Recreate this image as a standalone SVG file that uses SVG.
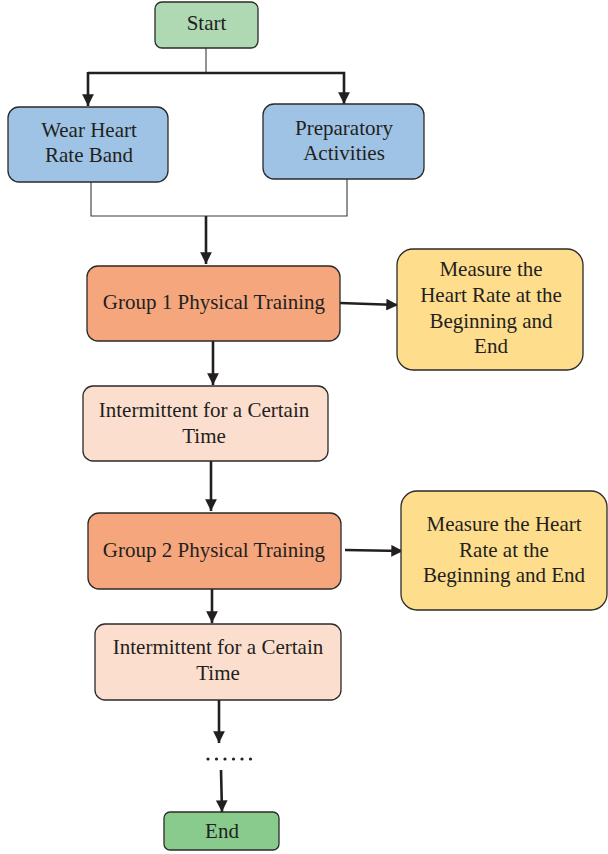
<svg xmlns="http://www.w3.org/2000/svg" width="608" height="854" viewBox="0 0 608 854">
<style>
.box{stroke:#2b2a29;stroke-width:1.3}
.t{font-family:"Liberation Serif","Times New Roman",serif;font-size:21px;fill:#231f20;text-anchor:middle}
.thick{stroke:#231f20;stroke-width:2.6;fill:none}
.thin{stroke:#3a3a3a;stroke-width:1.1;fill:none}
</style>
<defs>
<marker id="ah" viewBox="0 0 10 10" refX="10" refY="5" markerWidth="4.5" markerHeight="4.5" markerUnits="strokeWidth" orient="auto">
<path d="M0,0 L10,5 L0,10 z" fill="#231f20"/>
</marker>
</defs>
<rect width="608" height="854" fill="#ffffff"/>
<g id="connectors">
<line class="thin" x1="206" y1="48" x2="206" y2="73"/>
<polyline class="thick" points="88,73 344,73 344,104" marker-end="url(#ah)"/>
<line class="thick" x1="88" y1="72" x2="88" y2="106" marker-end="url(#ah)"/>
<polyline class="thin" points="91,182 91,216 347,216 347,179"/>
<line class="thick" x1="206" y1="216" x2="206" y2="264" marker-end="url(#ah)"/>
<line class="thick" x1="340" y1="303" x2="398" y2="305" marker-end="url(#ah)"/>
<line class="thick" x1="213" y1="341" x2="213" y2="385" marker-end="url(#ah)"/>
<line class="thick" x1="211" y1="461" x2="211" y2="511" marker-end="url(#ah)"/>
<line class="thick" x1="345" y1="550" x2="403" y2="551" marker-end="url(#ah)"/>
<line class="thick" x1="212" y1="589" x2="212" y2="623" marker-end="url(#ah)"/>
<line class="thick" x1="219" y1="700" x2="219" y2="743" marker-end="url(#ah)"/>
<line class="thick" x1="221" y1="770" x2="222" y2="812" marker-end="url(#ah)"/>
<g fill="#231f20">
<circle cx="208" cy="759" r="1.6"/><circle cx="216.5" cy="759" r="1.6"/><circle cx="225" cy="759" r="1.6"/><circle cx="233.5" cy="759" r="1.6"/><circle cx="242" cy="759" r="1.6"/><circle cx="250.5" cy="759" r="1.6"/>
</g>
</g>
<g id="start">
<rect class="box" x="155" y="2" width="103" height="46" rx="7" fill="#aed9b2"/>
<text class="t" x="206.5" y="30">Start</text>
</g>
<g id="wear">
<rect class="box" x="8" y="107" width="160" height="75" rx="11" fill="#9ec3e5"/>
<text class="t" x="89" y="137">Wear Heart</text>
<text class="t" x="89" y="162">Rate Band</text>
</g>
<g id="prep">
<rect class="box" x="263" y="104" width="161" height="75" rx="11" fill="#9ec3e5"/>
<text class="t" x="344" y="135">Preparatory</text>
<text class="t" x="344" y="160">Activities</text>
</g>
<g id="group1">
<rect class="box" x="87" y="266" width="253" height="75" rx="11" fill="#f5a67d"/>
<text class="t" x="214" y="309">Group 1 Physical Training</text>
</g>
<g id="measure1">
<rect class="box" x="397" y="249" width="186" height="121" rx="16" fill="#fedd8c"/>
<text class="t" x="491" y="276">Measure the</text>
<text class="t" x="491" y="302">Heart Rate at the</text>
<text class="t" x="491" y="328">Beginning and</text>
<text class="t" x="491" y="353">End</text>
</g>
<g id="pause1">
<rect class="box" x="83" y="386" width="245" height="75" rx="10" fill="#fbdecd"/>
<text class="t" x="204" y="417">Intermittent for a Certain</text>
<text class="t" x="204" y="443">Time</text>
</g>
<g id="group2">
<rect class="box" x="88" y="513" width="253" height="76" rx="11" fill="#f5a67d"/>
<text class="t" x="214" y="557">Group 2 Physical Training</text>
</g>
<g id="measure2">
<rect class="box" x="401" y="491" width="206" height="119" rx="16" fill="#fedd8c"/>
<text class="t" x="504" y="531">Measure the Heart</text>
<text class="t" x="504" y="557">Rate at the</text>
<text class="t" x="504" y="582">Beginning and End</text>
</g>
<g id="pause2">
<rect class="box" x="95" y="624" width="246" height="76" rx="10" fill="#fbdecd"/>
<text class="t" x="218" y="654">Intermittent for a Certain</text>
<text class="t" x="218" y="680">Time</text>
</g>
<g id="end">
<rect class="box" x="164" y="812" width="115" height="38" rx="6" fill="#89cb8c"/>
<text class="t" x="222" y="838">End</text>
</g>
</svg>
